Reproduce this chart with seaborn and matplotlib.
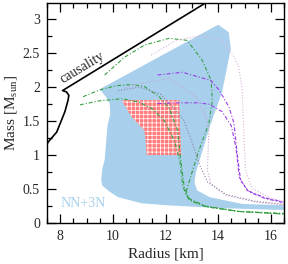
import numpy as np
import matplotlib
matplotlib.use("Agg")
import matplotlib.pyplot as plt
import seaborn as sns

# causality limit
caus_r = [7.45, 7.54, 7.87, 8.18, 8.30, 8.33, 8.24, 8.09, 13.60]
caus_m = [1.12, 1.19, 1.34, 1.64, 1.81, 1.88, 1.93, 1.95, 3.26]

# NN+3N band outline
band_r = [9.50, 9.75, 9.88, 9.90, 9.80, 9.69, 9.60, 9.56, 9.60, 9.88, 10.20, 11.10,
          12.10, 14.00, 16.60, 16.60, 14.93, 13.68, 13.20, 13.10, 13.15, 13.70,
          14.15, 14.48, 14.40, 14.00]
band_m = [1.97, 1.85, 1.76, 1.60, 1.44, 0.93, 0.80, 0.63, 0.55, 0.46, 0.38, 0.29,
          0.26, 0.22, 0.19, 0.26, 0.28, 0.38, 0.48, 0.60, 0.74, 1.44,
          1.93, 2.57, 2.81, 2.92]

# constraint box
box_r = [10.38, 12.52, 12.55, 12.60, 11.28, 11.25, 11.20, 10.70, 10.38]
box_m = [1.81, 1.81, 1.40, 1.00, 1.00, 1.20, 1.36, 1.57, 1.78]

# green curves
g1_r = [9.69, 10.44, 11.20, 12.14, 12.82, 13.39, 13.73, 13.78, 13.65, 13.27, 13.01,
        12.77, 12.90, 13.53, 14.78, 16.60]
g1_m = [2.18, 2.44, 2.62, 2.72, 2.69, 2.40, 2.10, 1.81, 1.47, 1.07, 0.75,
        0.44, 0.34, 0.24, 0.17, 0.13]
g2_r = [8.87, 9.50, 10.10, 10.70, 11.20, 11.76, 12.14, 12.45, 12.58, 12.71, 12.90,
        13.50, 14.78, 16.60]
g2_m = [1.86, 1.96, 2.02, 2.04, 2.01, 1.86, 1.69, 1.37, 0.93, 0.53, 0.36,
        0.25, 0.17, 0.13]
g3_r = [8.75, 9.50, 10.37, 11.00, 11.50, 11.95, 12.35, 12.55, 12.65, 12.80, 13.00,
        13.55, 14.80, 16.60]
g3_m = [1.74, 1.80, 1.83, 1.78, 1.68, 1.51, 1.20, 0.90, 0.55, 0.40, 0.32,
        0.24, 0.17, 0.14]

# purple curves
v1_r = [11.70, 12.64, 13.72, 14.03, 14.41, 14.60, 14.72, 14.85, 15.16, 15.79, 16.60]
v1_m = [2.18, 2.22, 2.10, 1.96, 1.71, 1.47, 1.03, 0.63, 0.46, 0.36, 0.29]
v2_r = [11.70, 12.50, 13.20, 13.65, 14.15, 14.50, 14.68, 14.80, 15.10, 15.79, 16.60]
v2_m = [1.76, 1.77, 1.77, 1.75, 1.64, 1.43, 1.10, 0.68, 0.48, 0.37, 0.30]

# dotted curves
d1_r = [10.50, 11.01, 12.14, 13.15, 13.53, 13.65, 13.59, 13.72, 14.28, 15.41, 16.60]
d1_m = [2.00, 2.05, 2.13, 1.86, 1.56, 1.37, 0.78, 0.58, 0.41, 0.31, 0.26]
d2_r = [10.20, 11.00, 11.80, 12.30, 12.70, 13.00, 13.30, 13.60, 14.30, 15.40, 16.60]
d2_m = [1.95, 2.00, 1.90, 1.70, 1.51, 1.20, 0.85, 0.60, 0.42, 0.32, 0.27]
p1_r = [11.45, 12.40, 13.34, 14.15, 14.60, 14.78, 14.91, 14.97, 15.04, 15.28, 16.04, 16.60]
p1_m = [2.47, 2.69, 2.76, 2.69, 2.45, 2.30, 1.96, 1.37, 0.78, 0.51, 0.36, 0.31]

sns.set_style("ticks")
plt.rcParams["font.family"] = ["Liberation Serif", "DejaVu Serif"]
plt.rcParams["mathtext.fontset"] = "stix"
plt.rcParams["hatch.linewidth"] = 0.5

fig = plt.figure(figsize=(2.88, 2.64), dpi=100)
ax = fig.add_axes([47 / 288, 41 / 264, 237 / 288, 220 / 264])

ax.fill(band_r, band_m, color="#a8d0ec", lw=0, zorder=1)
ax.fill(box_r, box_m, facecolor="#ff7a7a", edgecolor="white", hatch="++++", lw=0, zorder=2)

dashdot = (0, (3.5, 1.8, 1.0, 1.8))
dotted = (0, (1.0, 1.6))
for r, m, c, ls in [(g1_r, g1_m, "#35a043", dashdot), (g2_r, g2_m, "#35a043", dashdot),
                    (g3_r, g3_m, "#35a043", dashdot), (v1_r, v1_m, "#9a3ce6", dashdot),
                    (v2_r, v2_m, "#9a3ce6", dashdot), (d1_r, d1_m, "#c9a6cf", dotted),
                    (d2_r, d2_m, "#8f7f9f", dotted), (p1_r, p1_m, "#d8b4d8", dotted)]:
    sns.lineplot(x=r, y=m, sort=False, estimator=None, ax=ax, color=c,
                 linestyle=ls, lw=0.8, zorder=3)

sns.lineplot(x=caus_r, y=caus_m, sort=False, estimator=None, ax=ax,
             color="black", lw=1.2, zorder=4)

ax.text(8.85, 2.29, "causality", rotation=31, ha="center", va="center",
        fontsize=10, rotation_mode="anchor")
ax.text(8.03, 0.29, "NN+3N", color="#a8d0ec", fontsize=10, va="center")

ax.set_xlim(7.5, 16.5)
ax.set_ylim(0, 3.24)
ax.set_xticks([8, 10, 12, 14, 16])
ax.set_xticks(np.arange(7.5, 16.6, 0.5), minor=True)
ax.set_yticks([0, 0.5, 1, 1.5, 2, 2.5, 3])
ax.set_yticklabels(["0", "0.5", "1", "1.5", "2", "2.5", "3"])
ax.set_yticks(np.arange(0, 3.25, 0.25), minor=True)
ax.tick_params(which="both", direction="in", top=True, right=True,
               labelsize=10, width=0.9, color="black")
ax.tick_params(which="major", length=6.5, pad=5)
ax.tick_params(which="minor", length=3.5)
for s in ax.spines.values():
    s.set_linewidth(1.0)
    s.set_color("black")

ax.set_xlabel("Radius [km]", fontsize=11, labelpad=3)
ax.set_ylabel(r"Mass [M$_\mathregular{sun}$]", fontsize=11, labelpad=3)

fig.savefig("out.png", dpi=100)
